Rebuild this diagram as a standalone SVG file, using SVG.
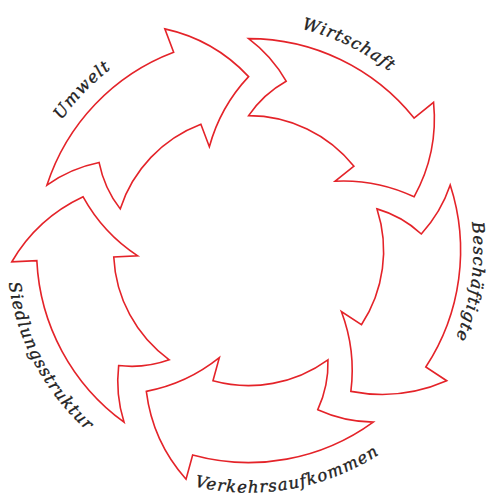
<svg xmlns="http://www.w3.org/2000/svg" xmlns:xlink="http://www.w3.org/1999/xlink" width="490" height="497" viewBox="0 0 490 497">
  <style>
    .arrow { fill: #ffffff; stroke: #e42329; stroke-width: 1.6; stroke-linejoin: miter; }
    .label { font-family: "DejaVu Serif", "Liberation Serif", serif; font-style: italic; font-size: 16.5px; letter-spacing: 1.2px; fill: #222222; stroke: #222222; stroke-width: 0.35px; }
  </style>
  <defs>
    <path id="arrowShape" d="M46.98,185.09 A212,212 0 0 1 173.66,52.29 L164.83,28.90 Q214.1,39.7 248.6,76.6 Q220.25,106.81 209.36,146.77 L200.88,124.32 A135,135 0 0 0 120.21,208.88 Q104.2,188.2 99.11,162.54 Q70.67,168.3 46.98,185.09 Z"/>
    <path id="tp-umwelt" d="M20.63,254.57 A228,228 0 0 1 244.62,22.63"/>
    <path id="tp-wirtschaft" d="M174.37,35.02 A228,228 0 0 1 464.18,176.37"/>
    <path id="tp-besch" d="M428.29,115.19 A225,225 0 0 1 384.01,430.29"/>
    <path id="tp-verkehr" d="M109.79,448.83 A242,242 0 0 0 446.83,389.41"/>
    <path id="tp-siedlung" d="M17.18,179.85 A242,242 0 0 0 177.85,482.02"/>
  </defs>
  <rect width="490" height="497" fill="#ffffff"/>
  <g id="node-umwelt">
    <use href="#arrowShape" class="arrow"/>
    <text class="label" text-anchor="middle"><textPath href="#tp-umwelt" startOffset="50%">Umwelt</textPath></text>
  </g>
  <g id="node-wirtschaft">
    <use href="#arrowShape" class="arrow" transform="rotate(72 248.6 250.6)"/>
    <text class="label" text-anchor="middle"><textPath href="#tp-wirtschaft" startOffset="50%">Wirtschaft</textPath></text>
  </g>
  <g id="node-beschaeftigte">
    <use href="#arrowShape" class="arrow" transform="rotate(144 248.6 250.6)"/>
    <text class="label" text-anchor="middle"><textPath href="#tp-besch" startOffset="50%">Beschäftigte</textPath></text>
  </g>
  <g id="node-verkehrsaufkommen">
    <use href="#arrowShape" class="arrow" transform="rotate(216 248.6 250.6)"/>
    <text class="label" text-anchor="middle"><textPath href="#tp-verkehr" startOffset="50%">Verkehrsaufkommen</textPath></text>
  </g>
  <g id="node-siedlungsstruktur">
    <use href="#arrowShape" class="arrow" transform="rotate(288 248.6 250.6)"/>
    <text class="label" text-anchor="middle"><textPath href="#tp-siedlung" startOffset="50%">Siedlungsstruktur</textPath></text>
  </g>
  <g id="connectors"></g>
</svg>
